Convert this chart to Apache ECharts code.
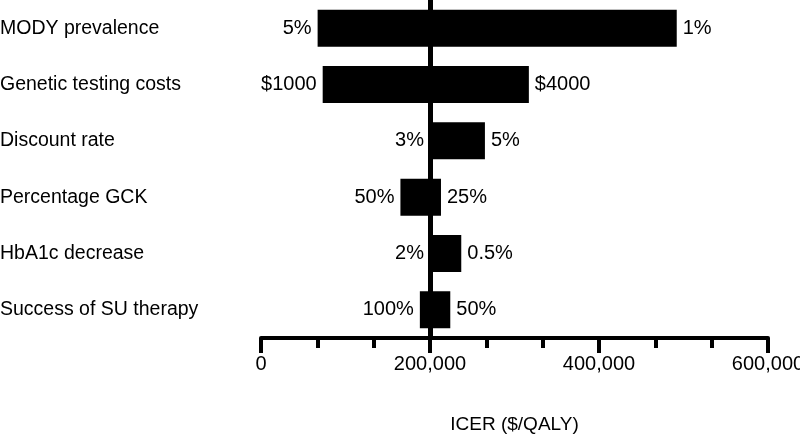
<!DOCTYPE html>
<html>
<head>
<meta charset="utf-8">
<script src="https://cdn.jsdelivr.net/npm/echarts@6/dist/echarts.min.js"></script>
<style>
html,body{margin:0;padding:0;background:#fff;}
#chart{width:800px;height:437px;}
</style>
</head>
<body>
<div id="chart"></div>
<script>
var categories = ['MODY prevalence', 'Genetic testing costs', 'Discount rate', 'Percentage GCK', 'HbA1c decrease', 'Success of SU therapy'];
var lowValues = [67000, 73000, 200000, 165000, 200000, 188000];
var highValues = [492000, 317000, 265000, 213000, 237000, 224000];
var lowLabels = ['5%', '$1000', '3%', '50%', '2%', '100%'];
var highLabels = ['1%', '$4000', '5%', '25%', '0.5%', '50%'];
var baseline = 200000;
var xTicks = [0, 200000, 400000, 600000];

var font = "'Liberation Sans', Arial, Helvetica, sans-serif";
var chart = echarts.init(document.getElementById('chart'), null, {renderer: 'canvas'});

var spanValues = highValues.map(function (h, i) { return h - lowValues[i]; });

chart.setOption({
  animation: false,
  backgroundColor: '#fff',
  grid: {left: 261, right: 32, top: 0, bottom: 99, containLabel: false, outerBoundsMode: 'none'},
  xAxis: {
    type: 'value',
    min: xTicks[0],
    max: xTicks[xTicks.length - 1],
    interval: xTicks[1] - xTicks[0],
    name: 'ICER ($/QALY)',
    nameLocation: 'middle',
    nameGap: 77,
    nameTextStyle: {color: '#000', fontSize: 19, fontFamily: font},
    axisLine: {show: true, lineStyle: {color: '#000', width: 4}},
    axisTick: {show: true, length: 15, lineStyle: {color: '#000', width: 4}},
    minorTick: {show: true, splitNumber: 3, length: 10, lineStyle: {color: '#000', width: 4}},
    splitLine: {show: false},
    minorSplitLine: {show: false},
    axisLabel: {
      color: '#000', fontSize: 20, fontFamily: font, margin: 16,
      formatter: function (v) { return v === 0 ? '0' : v.toLocaleString('en-US'); }
    }
  },
  yAxis: {
    type: 'category',
    data: categories,
    inverse: true,
    axisLine: {show: false},
    axisTick: {show: false},
    splitLine: {show: false},
    axisLabel: {color: '#000', fontSize: 19.5, fontFamily: font, align: 'left', margin: 261}
  },
  series: [
    {
      type: 'bar',
      stack: 'tornado',
      data: lowValues,
      barWidth: 37,
      itemStyle: {color: 'rgba(0,0,0,0)'},
      label: {
        show: true, position: 'insideRight', distance: 6,
        color: '#000', fontSize: 20, fontFamily: font,
        formatter: function (p) { return lowLabels[p.dataIndex]; }
      },
      silent: true
    },
    {
      type: 'bar',
      stack: 'tornado',
      data: spanValues,
      barWidth: 37,
      itemStyle: {color: '#000'},
      label: {
        show: true, position: 'right', distance: 6,
        color: '#000', fontSize: 20, fontFamily: font,
        formatter: function (p) { return highLabels[p.dataIndex]; }
      },
      markLine: {
        silent: true,
        symbol: ['none', 'none'],
        label: {show: false},
        lineStyle: {color: '#000', width: 5, type: 'solid'},
        data: [{xAxis: baseline}]
      }
    }
  ]
});
</script>
</body>
</html>
